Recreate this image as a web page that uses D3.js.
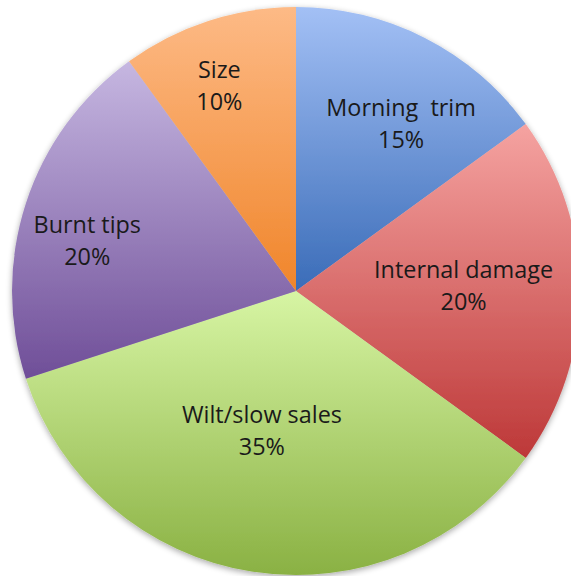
<!DOCTYPE html>
<html><head><meta charset="utf-8">
<script src="https://cdn.jsdelivr.net/npm/d3@7"></script>
<style>html,body{margin:0;padding:0;background:#fff;}svg{display:block;}</style>
</head><body>
<svg id="chart" width="571" height="576"></svg>
<script>
const categories = ["Morning  trim", "Internal damage", "Wilt/slow sales", "Burnt tips", "Size"];
const values = [15, 20, 35, 20, 10];
const colorTop = ["#a3c0f5", "#f5a3a1", "#d7f5a4", "#c6b7e1", "#fdba86"];
const colorBottom = ["#3a6cb8", "#bd3838", "#8ab143", "#6f4e98", "#f0852a"];
// label placement: [dx, dy] in radius units from centre (layout, not data)
const labelPos = [[0.37, -0.59], [0.59, -0.02], [-0.12, 0.49], [-0.735, -0.18], [-0.27, -0.725]];

const svg = d3.select("#chart");
const cx = 296, cy = 291, r = 284;
const total = d3.sum(values);
const defs = svg.append("defs");
const f = defs.append("filter").attr("id", "sh").attr("x", "-10%").attr("y", "-10%").attr("width", "120%").attr("height", "120%");
f.append("feGaussianBlur").attr("in", "SourceAlpha").attr("stdDeviation", 3).attr("result", "b");
f.append("feOffset").attr("in", "b").attr("dx", 0).attr("dy", 2).attr("result", "o");
f.append("feComponentTransfer").attr("in", "o").attr("result", "o2").append("feFuncA").attr("type", "linear").attr("slope", 0.35);
const m = f.append("feMerge"); m.append("feMergeNode").attr("in", "o2"); m.append("feMergeNode").attr("in", "SourceGraphic");

categories.forEach((c, i) => {
  const g = defs.append("linearGradient").attr("id", "g" + i).attr("x1", 0).attr("y1", 0).attr("x2", 0).attr("y2", 1);
  g.append("stop").attr("offset", "0%").attr("stop-color", colorTop[i]);
  g.append("stop").attr("offset", "100%").attr("stop-color", colorBottom[i]);
});

const pie = d3.pie().sort(null).value(d => d)(values);
const arc = d3.arc().innerRadius(0).outerRadius(r);
const gp = svg.append("g").attr("transform", `translate(${cx},${cy})`);
gp.append("g").attr("filter", "url(#sh)").selectAll("path").data(pie).join("path")
  .attr("d", arc).attr("fill", (d, i) => `url(#g${i})`);

const lab = gp.selectAll("text.l").data(pie).join("text").attr("class", "l")
  .attr("text-anchor", "middle")
  .attr("font-family", "'Open Sans', sans-serif").attr("font-size", 23.4).attr("fill", "#1a1a1a")
  .attr("transform", (d, i) => `translate(${labelPos[i][0] * r},${labelPos[i][1] * r})`);
lab.append("tspan").attr("x", 0).attr("dy", "-0.3em").style("white-space", "pre").text((d, i) => categories[i]);
lab.append("tspan").attr("x", 0).attr("dy", "1.37em").text(d => Math.round(d.value / total * 100) + "%");
</script>
</body></html>
